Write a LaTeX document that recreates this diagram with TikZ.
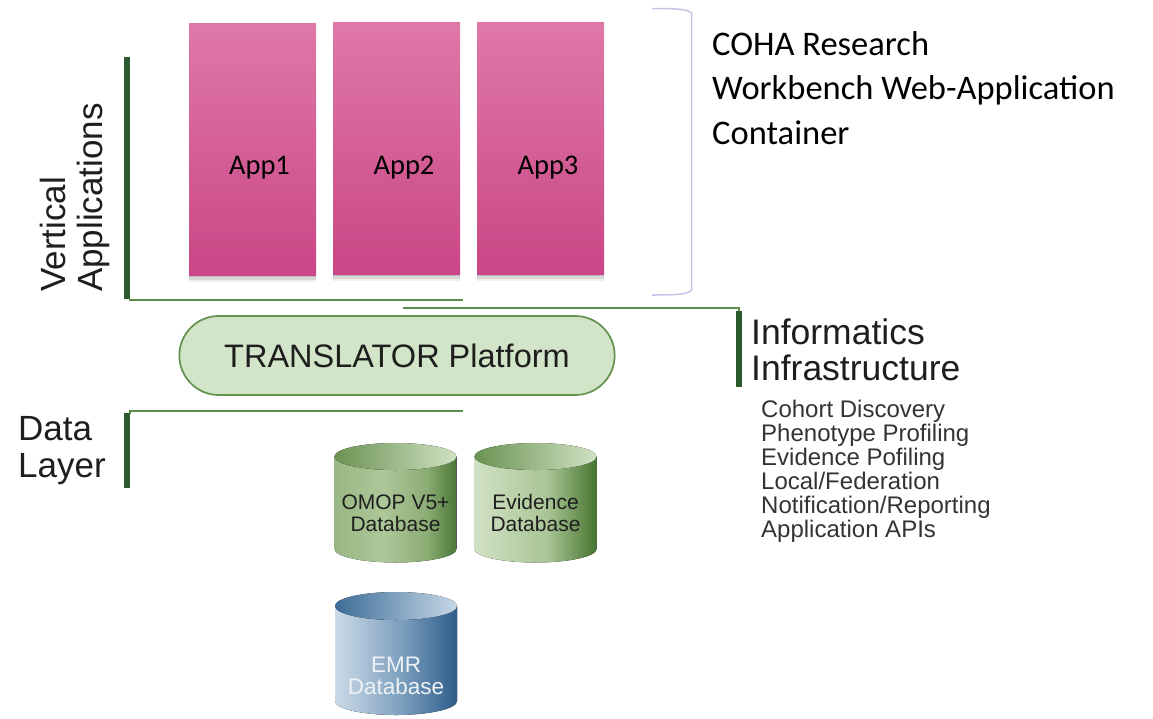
\documentclass[tikz,border=0pt]{standalone}
\usepackage{fontspec}
\setmainfont{Liberation Sans}
\newfontfamily\calibri{Carlito}
\usetikzlibrary{shapes.misc,shadows,calc}

\definecolor{barG}{HTML}{2B5A2F}
\definecolor{lineG}{HTML}{5E8C4A}
\definecolor{pillF}{HTML}{D3E5C9}
\definecolor{pillD}{HTML}{62924E}
\definecolor{brk}{HTML}{C4C4E8}
\definecolor{appT}{HTML}{DF78A8}
\definecolor{appB}{HTML}{CA4686}
\definecolor{omA}{HTML}{98B783}
\definecolor{omB}{HTML}{ADC799}
\definecolor{omC}{HTML}{8BAC74}
\definecolor{omD}{HTML}{4A7737}
\definecolor{evA}{HTML}{D0E1C4}
\definecolor{evB}{HTML}{A9C595}
\definecolor{evD}{HTML}{46742F}
\definecolor{gtA}{HTML}{6A9253}
\definecolor{gtB}{HTML}{D0E2C3}
\definecolor{emA}{HTML}{CCDBE8}
\definecolor{emB}{HTML}{7D9FBE}
\definecolor{emD}{HTML}{2D5D8A}
\definecolor{btA}{HTML}{3D6D98}
\definecolor{btB}{HTML}{C6D7E6}
\definecolor{txtD}{HTML}{1E1E1E}
\definecolor{listC}{HTML}{333333}
\definecolor{emrT}{HTML}{EEF2F6}

\pgfdeclarehorizontalshading{omopbody}{100bp}{color(0bp)=(omA); color(25bp)=(omA); color(45bp)=(omB); color(63bp)=(omC); color(75bp)=(omD); color(100bp)=(omD)}
\pgfdeclarehorizontalshading{evbody}{100bp}{color(0bp)=(evA); color(25bp)=(evA); color(55bp)=(evB); color(75bp)=(evD); color(100bp)=(evD)}
\pgfdeclarehorizontalshading{greentop}{100bp}{color(0bp)=(gtA); color(25bp)=(gtA); color(75bp)=(gtB); color(100bp)=(gtB)}
\pgfdeclarehorizontalshading{emrbody}{100bp}{color(0bp)=(emA); color(25bp)=(emA); color(52bp)=(emB); color(75bp)=(emD); color(100bp)=(emD)}
\pgfdeclarehorizontalshading{bluetop}{100bp}{color(0bp)=(btA); color(25bp)=(btA); color(75bp)=(btB); color(100bp)=(btB)}

\tikzset{
  app/.style={minimum width=127, minimum height=252, inner sep=0, top color=appT, bottom color=appB,
    drop shadow={shadow xshift=0pt, shadow yshift=-7pt, opacity=0.06, fill=black},
    drop shadow={shadow xshift=0pt, shadow yshift=-4.5pt, opacity=0.10, fill=black},
    drop shadow={shadow xshift=0pt, shadow yshift=-2pt, opacity=0.14, fill=black}},
  apptxt/.style={font=\calibri\fontsize{28.5}{30}\selectfont, text=black, inner sep=0},
  pill/.style={rounded rectangle, minimum width=442, minimum height=79, fill=pillF, draw=pillD, line width=1.7,
    font=\fontsize{32.5}{34}\selectfont, text=txtD},
  bar/.style={line width=6, barG},
  gline/.style={line width=2, lineG},
  lbl/.style={font=\fontsize{35}{37}\selectfont, text=txtD, inner sep=0, align=left},
  infolbl/.style={font=\fontsize{35.5}{36}\selectfont, text=txtD, inner sep=0, align=left},
  listlbl/.style={font=\fontsize{24}{24}\selectfont, text=listC, inner sep=0, align=left},
  cohalbl/.style={font=\calibri\fontsize{34.5}{44.5}\selectfont, text=black, inner sep=0, align=left},
  dbtxt/.style={font=\fontsize{21}{22}\selectfont, text=txtD, inner sep=0, align=center},
  emrtxt/.style={font=\fontsize{22.5}{21.5}\selectfont, text=emrT, inner sep=0, align=center},
}

\begin{document}
\begin{tikzpicture}[x=1pt, y=-1pt]
\useasboundingbox (0,0) rectangle (1153,718);

% container bracket
\draw[brk, line width=1.5] (652,8.5) .. controls (676,8.5) and (688,9) .. (691.5,13)
  -- (691.5,290) .. controls (688,294.5) and (676,295) .. (652,295);

% apps
\node[app] (app1) at (252.5,149) {};
\node[app] (app2) at (396.5,148) {};
\node[app] (app3) at (540.5,148) {};
\node[apptxt, anchor=base] (t1) at (259.5,174) {App1};
\node[apptxt, anchor=base] (t2) at (404,174) {App2};
\node[apptxt, anchor=base] (t3) at (548,174) {App3};

% COHA text
\node[cohalbl, anchor=north west] (coha) at (712,31) {COHA Research\\Workbench Web-Application\\Container};

% vertical applications bracket
\coordinate (vaT) at (127,57);
\coordinate (vaB) at (127,299);
\coordinate (vaL) at (129,299.5);
\coordinate (vaR) at (463,299.5);
\draw[bar] (vaT) -- (vaB);
\draw[gline] (vaL) -- (vaR);
\node[lbl, rotate=90, anchor=north west] (va) at (40,292) {Vertical\\Applications};

% informatics bracket
\coordinate (inL) at (403,308);
\coordinate (inC) at (738.5,308);
\coordinate (inT) at (738.5,311);
\coordinate (inB) at (738.5,387);
\draw[gline] (inL) -- (inC) -- (inT);
\draw[bar] (inT) -- (inB);
\node[infolbl, anchor=north west] (inf) at (751,319) {Informatics\\Infrastructure};
\node[listlbl, anchor=north west] (feat) at (761,399.5) {Cohort Discovery\\Phenotype Profiling\\Evidence Pofiling\\Local/Federation\\Notification/Reporting\\Application APIs};

% translator
\node[pill] (tp) at (397,355.5) {TRANSLATOR Platform};

% data layer bracket
\coordinate (dlC) at (130,411);
\coordinate (dlR) at (463,411);
\coordinate (dlT) at (126.5,413);
\coordinate (dlB) at (126.5,488);
\draw[gline] (130,414) -- (dlC) -- (dlR);
\draw[bar] (dlT) -- (dlB);
\node[lbl, anchor=north west] (dl) at (18,416) {Data\\Layer};

% OMOP cylinder
\fill[shading=omopbody] (334.5,456.5) -- (334.5,549) arc[start angle=180, end angle=0, x radius=61, y radius=13.5] -- (456.5,456.5) -- cycle;
\fill[shading=greentop] (395.5,456.5) ellipse[x radius=61, y radius=13.5];
\node[dbtxt] (omop) at (395.5,513) {OMOP V5+\\Database};

% Evidence cylinder
\fill[shading=evbody] (474.5,456.5) -- (474.5,549) arc[start angle=180, end angle=0, x radius=61, y radius=13.5] -- (596.5,456.5) -- cycle;
\fill[shading=greentop] (535.5,456.5) ellipse[x radius=61, y radius=13.5];
\node[dbtxt] (evid) at (535.5,513) {Evidence\\Database};

% EMR cylinder
\fill[shading=emrbody] (335,606) -- (335,701) arc[start angle=180, end angle=0, x radius=61, y radius=14] -- (457,606) -- cycle;
\fill[shading=bluetop] (396,606) ellipse[x radius=61, y radius=14];
\node[emrtxt] (emr) at (396,676) {EMR\\Database};
\end{tikzpicture}
\end{document}
